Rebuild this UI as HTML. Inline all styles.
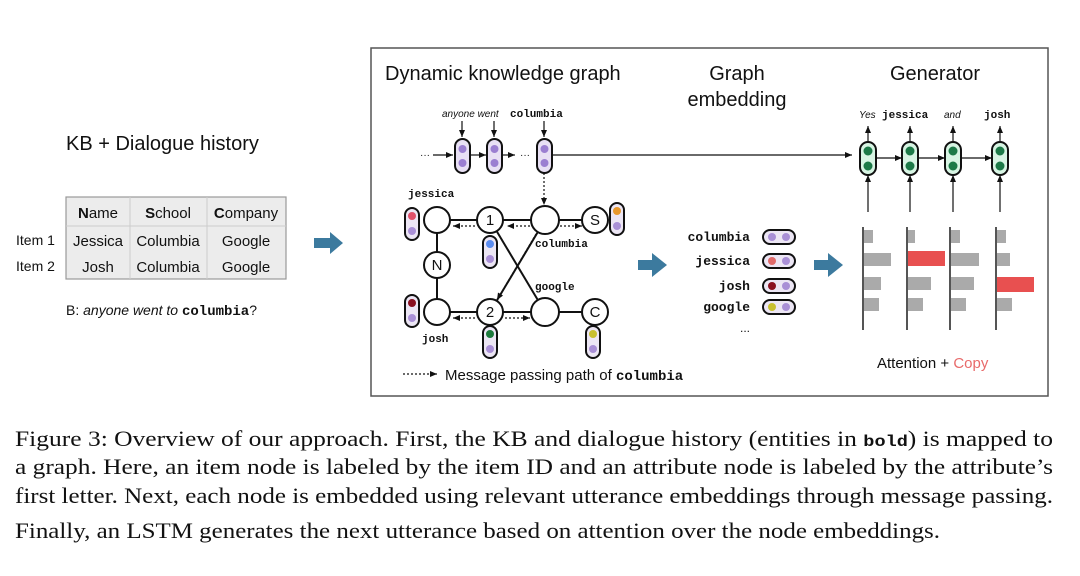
<!DOCTYPE html>
<html><head><meta charset="utf-8"><style>
html,body{margin:0;padding:0;background:#fff;}
svg{display:block;}
.s{font-family:"Liberation Sans",sans-serif;}
.m{font-family:"Liberation Mono",monospace;font-weight:bold;}
.r{font-family:"Liberation Serif",serif;}
</style></head><body>
<svg width="1080" height="576" viewBox="0 0 1080 576" xmlns="http://www.w3.org/2000/svg">
<defs>
<marker id="ah" markerWidth="8" markerHeight="8" refX="7" refY="4" orient="auto" markerUnits="userSpaceOnUse"><path d="M0,1 L7,4 L0,7 z" fill="#111"/></marker>
</defs>
<rect width="1080" height="576" fill="#fff"/>

<text x="66" y="150" class="s" font-size="20" fill="#111">KB + Dialogue history</text>
<rect x="66" y="197" width="220" height="82" fill="#ececec" stroke="#999" stroke-width="1.2"/>
<line x1="66" y1="226" x2="286" y2="226" stroke="#ccc"/>
<line x1="130" y1="197" x2="130" y2="279" stroke="#ccc"/>
<line x1="207" y1="197" x2="207" y2="279" stroke="#ccc"/>
<g class="s" font-size="15" fill="#111" text-anchor="middle">
<text x="98" y="218"><tspan font-weight="bold">N</tspan>ame</text>
<text x="168" y="218"><tspan font-weight="bold">S</tspan>chool</text>
<text x="246" y="218"><tspan font-weight="bold">C</tspan>ompany</text>
<text x="98" y="246">Jessica</text><text x="168" y="246">Columbia</text><text x="246" y="246">Google</text>
<text x="98" y="272">Josh</text><text x="168" y="272">Columbia</text><text x="246" y="272">Google</text>
</g>
<text x="16" y="245" class="s" font-size="14" fill="#111">Item 1</text>
<text x="16" y="271" class="s" font-size="14" fill="#111">Item 2</text>
<text x="66" y="315" class="s" font-size="14" fill="#111">B: <tspan font-style="italic">anyone went to </tspan><tspan class="m">columbia</tspan>?</text>

<g fill="#3c7a9e">
<path d="M314,238 h16 v-6 l13,11 l-13,11 v-6 h-16 z"/>
<path d="M638,260 h14 v-7 l15,12 l-15,12 v-7 h-14 z"/>
<path d="M814,260 h14 v-7 l15,12 l-15,12 v-7 h-14 z"/>
</g>

<rect x="371" y="48" width="677" height="348" fill="none" stroke="#555" stroke-width="1.5"/>
<text x="385" y="80" class="s" font-size="20" fill="#111">Dynamic knowledge graph</text>
<text x="737" y="80" class="s" font-size="20" fill="#111" text-anchor="middle">Graph</text>
<text x="737" y="106" class="s" font-size="20" fill="#111" text-anchor="middle">embedding</text>
<text x="935" y="80" class="s" font-size="20" fill="#111" text-anchor="middle">Generator</text>

<text x="442" y="117" class="s" font-size="10" font-style="italic" fill="#111">anyone went</text>
<text x="510" y="117" class="m" font-size="11" fill="#111">columbia</text>
<g stroke="#111" stroke-width="1.2" fill="none">
<line x1="462" y1="121" x2="462" y2="137" marker-end="url(#ah)"/>
<line x1="494" y1="121" x2="494" y2="137" marker-end="url(#ah)"/>
<line x1="544" y1="121" x2="544" y2="137" marker-end="url(#ah)"/>
<line x1="433" y1="155" x2="453" y2="155" marker-end="url(#ah)"/>
<line x1="470" y1="155" x2="486" y2="155" marker-end="url(#ah)"/>
<line x1="502" y1="155" x2="515" y2="155" marker-end="url(#ah)"/>
<line x1="552" y1="155" x2="852" y2="155" marker-end="url(#ah)"/>
<line x1="544" y1="173" x2="544" y2="205" stroke-dasharray="2,2" marker-end="url(#ah)"/>
</g>
<text x="420" y="158" class="s" font-size="10" fill="#111">···</text>
<text x="520" y="158" class="s" font-size="10" fill="#111">···</text>
<g>
<rect x="455" y="139" width="15" height="34" rx="7.5" fill="#e8e0f4" stroke="#111" stroke-width="2"/><circle cx="462.5" cy="149" r="4" fill="#9b7fd1"/><circle cx="462.5" cy="163" r="4" fill="#9b7fd1"/>
<rect x="487" y="139" width="15" height="34" rx="7.5" fill="#e8e0f4" stroke="#111" stroke-width="2"/><circle cx="494.5" cy="149" r="4" fill="#9b7fd1"/><circle cx="494.5" cy="163" r="4" fill="#9b7fd1"/>
<rect x="537" y="139" width="15" height="34" rx="7.5" fill="#e8e0f4" stroke="#111" stroke-width="2"/><circle cx="544.5" cy="149" r="4" fill="#9b7fd1"/><circle cx="544.5" cy="163" r="4" fill="#9b7fd1"/>
</g>

<g stroke="#111" stroke-width="2" fill="none">
<line x1="437" y1="220" x2="595" y2="220"/>
<line x1="437" y1="312" x2="595" y2="312"/>
<line x1="437" y1="220" x2="437" y2="312"/>
<line x1="490" y1="220" x2="545" y2="312"/>
<line x1="545" y1="220" x2="490" y2="312"/>
</g>
<g stroke="#111" stroke-width="1.2" fill="none" stroke-dasharray="2,2">
<line x1="475" y1="226" x2="453" y2="226" marker-end="url(#ah)"/>
<line x1="530" y1="226" x2="507" y2="226" marker-end="url(#ah)"/>
<line x1="560" y1="226" x2="582" y2="226" marker-end="url(#ah)"/>
<line x1="536" y1="234" x2="497" y2="300" marker-end="url(#ah)"/>
<line x1="475" y1="318" x2="453" y2="318" marker-end="url(#ah)"/>
<line x1="505" y1="318" x2="530" y2="318" marker-end="url(#ah)"/>
</g>
<g fill="#fff" stroke="#111" stroke-width="2">
<circle cx="437" cy="220" r="13"/><circle cx="490" cy="220" r="13"/><circle cx="545" cy="220" r="14"/><circle cx="595" cy="220" r="13"/>
<circle cx="437" cy="265" r="13"/>
<circle cx="437" cy="312" r="13"/><circle cx="490" cy="312" r="13"/><circle cx="545" cy="312" r="14"/><circle cx="595" cy="312" r="13"/>
</g>
<g class="s" font-size="15" fill="#111" text-anchor="middle">
<text x="490" y="225">1</text><text x="595" y="225">S</text><text x="437" y="270">N</text><text x="490" y="317">2</text><text x="595" y="317">C</text>
</g>
<g class="m" font-size="11" fill="#111">
<text x="408" y="197">jessica</text><text x="535" y="247">columbia</text><text x="535" y="290">google</text><text x="422" y="342">josh</text>
</g>
<g stroke="#111" stroke-width="2">
<rect x="405" y="208" width="14" height="32" rx="7" fill="#ece6f4"/>
<rect x="483" y="236" width="14" height="32" rx="7" fill="#ece6f4"/>
<rect x="610" y="203" width="14" height="32" rx="7" fill="#ece6f4"/>
<rect x="405" y="295" width="14" height="32" rx="7" fill="#ece6f4"/>
<rect x="483" y="326" width="14" height="32" rx="7" fill="#ece6f4"/>
<rect x="586" y="326" width="14" height="32" rx="7" fill="#ece6f4"/>
</g>
<circle cx="412" cy="216" r="4" fill="#e0506a"/><circle cx="412" cy="231" r="4" fill="#a98fd6"/>
<circle cx="490" cy="244" r="4" fill="#5b8df0"/><circle cx="490" cy="259" r="4" fill="#a98fd6"/>
<circle cx="617" cy="211" r="4" fill="#e8982c"/><circle cx="617" cy="226" r="4" fill="#a98fd6"/>
<circle cx="412" cy="303" r="4" fill="#8a1020"/><circle cx="412" cy="318" r="4" fill="#a98fd6"/>
<circle cx="490" cy="334" r="4" fill="#1d7a3c"/><circle cx="490" cy="349" r="4" fill="#a98fd6"/>
<circle cx="593" cy="334" r="4" fill="#c8c030"/><circle cx="593" cy="349" r="4" fill="#a98fd6"/>

<line x1="403" y1="374" x2="437" y2="374" stroke="#111" stroke-width="1.2" stroke-dasharray="2,2" marker-end="url(#ah)"/>
<text x="445" y="380" class="s" font-size="15" fill="#111">Message passing path of <tspan class="m" font-size="14">columbia</tspan></text>

<g class="m" font-size="13" fill="#111" text-anchor="end">
<text x="750" y="241">columbia</text><text x="750" y="265">jessica</text><text x="750" y="290">josh</text><text x="750" y="311">google</text>
</g>
<text x="740" y="332" class="s" font-size="12" fill="#111">...</text>
<g stroke="#111" stroke-width="2" fill="#ece6f4">
<rect x="763" y="230" width="32" height="14" rx="7"/><rect x="763" y="254" width="32" height="14" rx="7"/>
<rect x="763" y="279" width="32" height="14" rx="7"/><rect x="763" y="300" width="32" height="14" rx="7"/>
</g>
<circle cx="772" cy="237" r="4" fill="#a98fd6"/><circle cx="786" cy="237" r="4" fill="#a98fd6"/>
<circle cx="772" cy="261" r="4" fill="#e06a6a"/><circle cx="786" cy="261" r="4" fill="#a98fd6"/>
<circle cx="772" cy="286" r="4" fill="#8a1020"/><circle cx="786" cy="286" r="4" fill="#a98fd6"/>
<circle cx="772" cy="307" r="4" fill="#c8c030"/><circle cx="786" cy="307" r="4" fill="#a98fd6"/>

<text x="859" y="118" class="s" font-size="10" font-style="italic" fill="#111">Yes</text>
<text x="882" y="118" class="m" font-size="11" fill="#111">jessica</text>
<text x="944" y="118" class="s" font-size="10" font-style="italic" fill="#111">and</text>
<text x="984" y="118" class="m" font-size="11" fill="#111">josh</text>
<g stroke="#111" stroke-width="1.2" fill="none">
<line x1="868" y1="141" x2="868" y2="126" marker-end="url(#ah)"/>
<line x1="910" y1="141" x2="910" y2="126" marker-end="url(#ah)"/>
<line x1="953" y1="141" x2="953" y2="126" marker-end="url(#ah)"/>
<line x1="1000" y1="141" x2="1000" y2="126" marker-end="url(#ah)"/>
<line x1="868" y1="212" x2="868" y2="175" marker-end="url(#ah)"/>
<line x1="910" y1="212" x2="910" y2="175" marker-end="url(#ah)"/>
<line x1="953" y1="212" x2="953" y2="175" marker-end="url(#ah)"/>
<line x1="1000" y1="212" x2="1000" y2="175" marker-end="url(#ah)"/>
<line x1="876" y1="158" x2="902" y2="158" marker-end="url(#ah)"/>
<line x1="918" y1="158" x2="945" y2="158" marker-end="url(#ah)"/>
<line x1="961" y1="158" x2="992" y2="158" marker-end="url(#ah)"/>
</g>
<g stroke="#111" stroke-width="2" fill="#d8f5e4">
<rect x="860" y="142" width="16" height="33" rx="8"/><rect x="902" y="142" width="16" height="33" rx="8"/>
<rect x="945" y="142" width="16" height="33" rx="8"/><rect x="992" y="142" width="16" height="33" rx="8"/>
</g>
<g fill="#1d7a48">
<circle cx="868" cy="151" r="4.5"/><circle cx="868" cy="166" r="4.5"/>
<circle cx="910" cy="151" r="4.5"/><circle cx="910" cy="166" r="4.5"/>
<circle cx="953" cy="151" r="4.5"/><circle cx="953" cy="166" r="4.5"/>
<circle cx="1000" cy="151" r="4.5"/><circle cx="1000" cy="166" r="4.5"/>
</g>
<g fill="#aaa">
<rect x="863" y="230" width="10" height="13"/><rect x="863" y="253" width="28" height="13"/><rect x="863" y="277" width="18" height="13"/><rect x="863" y="298" width="16" height="13"/>
<rect x="907" y="230" width="8" height="13"/><rect x="907" y="277" width="24" height="13"/><rect x="907" y="298" width="16" height="13"/>
<rect x="950" y="230" width="10" height="13"/><rect x="950" y="253" width="29" height="13"/><rect x="950" y="277" width="24" height="13"/><rect x="950" y="298" width="16" height="13"/>
<rect x="996" y="230" width="10" height="13"/><rect x="996" y="253" width="14" height="13"/><rect x="996" y="298" width="16" height="13"/>
</g>
<rect x="907" y="251" width="38" height="15" fill="#e85050"/>
<rect x="996" y="277" width="38" height="15" fill="#e85050"/>
<g stroke="#555" stroke-width="2">
<line x1="863" y1="227" x2="863" y2="330"/><line x1="907" y1="227" x2="907" y2="330"/>
<line x1="950" y1="227" x2="950" y2="330"/><line x1="996" y1="227" x2="996" y2="330"/>
</g>
<text x="877" y="368" class="s" font-size="15" fill="#111">Attention + <tspan fill="#e86a6a">Copy</tspan></text>

<g class="r" font-size="22" fill="#111">
<text x="15" y="446" textLength="1038" lengthAdjust="spacingAndGlyphs">Figure 3:  Overview of our approach. First, the KB and dialogue history (entities in <tspan class="m" font-size="16">bold</tspan>) is mapped to</text>
<text x="15" y="474" textLength="1038" lengthAdjust="spacingAndGlyphs">a graph. Here, an item node is labeled by the item ID and an attribute node is labeled by the attribute’s</text>
<text x="15" y="503" textLength="1038" lengthAdjust="spacingAndGlyphs">first letter. Next, each node is embedded using relevant utterance embeddings through message passing.</text>
<text x="15" y="538" textLength="925" lengthAdjust="spacingAndGlyphs">Finally, an LSTM generates the next utterance based on attention over the node embeddings.</text>
</g>
</svg>
</body></html>
